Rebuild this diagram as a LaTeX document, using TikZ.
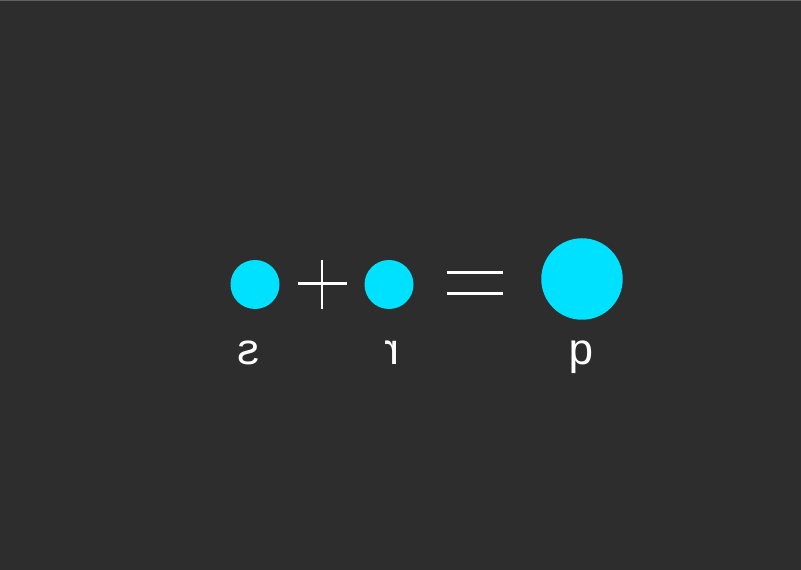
\documentclass[tikz,border=0pt]{standalone}
\usepackage{fontspec}
\setmainfont{Liberation Sans}
\usepackage{tikz}
\usetikzlibrary{positioning,calc}
\definecolor{bg}{HTML}{2D2D2D}
\definecolor{dot}{HTML}{00E1FF}
\definecolor{ink}{HTML}{FFFFFF}

\begin{document}
\begin{tikzpicture}[x=0.03cm, y=-0.03cm,
    blob/.style={circle, fill=dot, draw=none, inner sep=0pt},
    glyph/.style={text=ink, anchor=base, inner sep=0pt, font=\fontsize{37.5pt}{40pt}\selectfont},
    op/.style={ink, line width=2.1pt}]
  % canvas
  \fill[bg] (0,0) rectangle (801,570);
  \useasboundingbox (0,0) rectangle (801,570);
  \draw[white!25!bg, line width=0.8pt] (0,0.5) -- (801,0.5);
  % the three dots
  \node[blob, minimum size=49*0.03cm] (s) at (255,284.5) {};
  \node[blob, minimum size=49*0.03cm] (r) at (389,284.5) {};
  \node[blob, minimum size=81.5*0.03cm] (p) at (582,279) {};
  % plus and equals
  \draw[op] (297.7,283.5) -- (346.7,283.5);
  \draw[op] (322,260) -- (322,309);
  \draw[op] (446.7,272.7) -- (502.7,272.7);
  \draw[op] (446.7,293.3) -- (502.7,293.3);
  % mirrored labels
  \node[glyph, xscale=-1] (ls) at (249,365) {s};
  \node[glyph, xscale=-1] (lr) at (392,365) {r};
  \node[glyph, xscale=-1] (lp) at (581,365) {q};
\end{tikzpicture}
\end{document}
